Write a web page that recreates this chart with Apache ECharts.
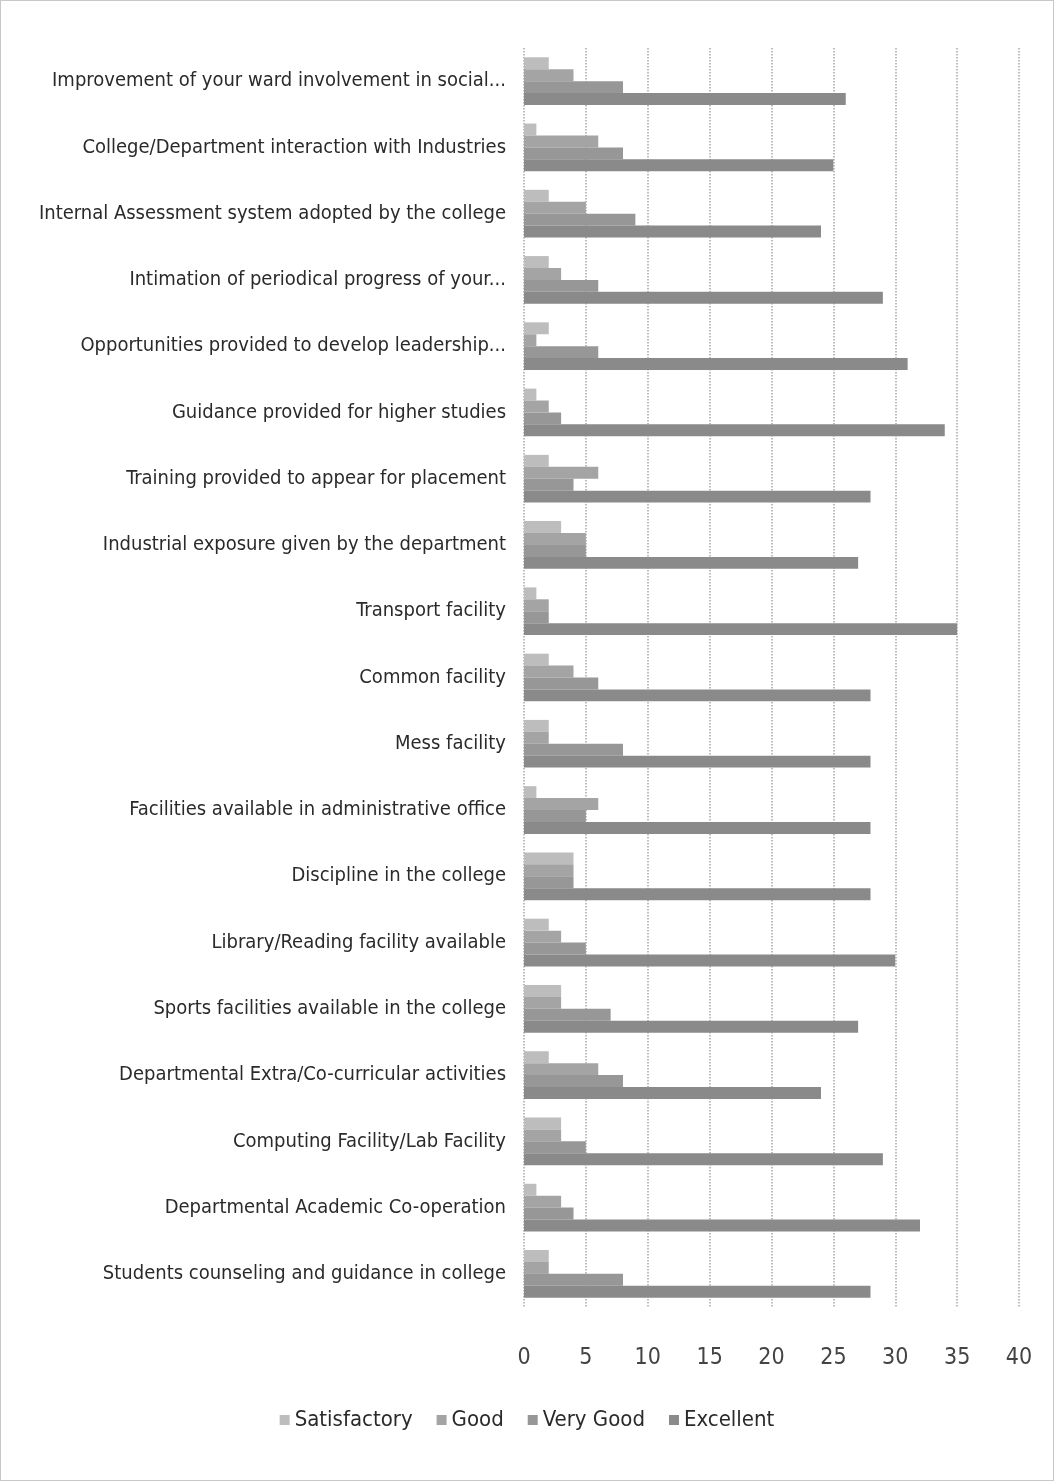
<!DOCTYPE html>
<html>
<head>
<meta charset="utf-8">
<script src="https://cdn.jsdelivr.net/npm/echarts@6/dist/echarts.min.js"></script>
<style>
  html, body { margin: 0; padding: 0; background: #fff; }
  #chartsDOM { width: 1054px; height: 1481px; box-sizing: border-box; border: 1px solid #c8c8c8; }
</style>
</head>
<body>
<div id="chartsDOM"></div>
<script>
// categories, listed from the bottom of the chart to the top
var categories = [
    'Students counseling and guidance in college',
    'Departmental Academic Co-operation',
    'Computing Facility/Lab Facility',
    'Departmental Extra/Co-curricular activities',
    'Sports facilities available in the college',
    'Library/Reading facility available',
    'Discipline in the college',
    'Facilities available in administrative office',
    'Mess facility',
    'Common facility',
    'Transport facility',
    'Industrial exposure given by the department',
    'Training provided to appear for placement',
    'Guidance provided for higher studies',
    'Opportunities provided to develop leadership...',
    'Intimation of periodical progress of your...',
    'Internal Assessment system adopted by the college',
    'College/Department interaction with Industries',
    'Improvement of your ward involvement in social...'
];

// values, same order as categories
var satisfactory = [2, 1, 3, 2, 3, 2, 4, 1, 2, 2, 1, 3, 2, 1, 2, 2, 2, 1, 2];
var good         = [2, 3, 3, 6, 3, 3, 4, 6, 2, 4, 2, 5, 6, 2, 1, 3, 5, 6, 4];
var veryGood     = [8, 4, 5, 8, 7, 5, 4, 5, 8, 6, 2, 5, 4, 3, 6, 6, 9, 8, 8];
var excellent    = [28, 32, 29, 24, 27, 30, 28, 28, 28, 28, 35, 27, 28, 34, 31, 29, 24, 25, 26];

var xTicks = [0, 5, 10, 15, 20, 25, 30, 35, 40];

var myChart = echarts.init(document.getElementById('chartsDOM'));

var labelFont = '"DejaVu Sans Condensed", "Noto Sans", sans-serif';

var option = {
    animation: false,
    backgroundColor: '#fff',
    grid: {
        left: 523,
        right: 34,
        top: 47,
        bottom: 173,
        outerBoundsMode: 'none'
    },
    legend: {
        bottom: 44,
        left: 'center',
        itemWidth: 10,
        itemHeight: 10,
        itemGap: 24,
        icon: 'rect',
        data: ['Satisfactory', 'Good', 'Very Good', 'Excellent'],
        textStyle: { fontFamily: labelFont, fontSize: 22, color: '#2a2a2a' }
    },
    xAxis: {
        type: 'value',
        min: xTicks[0],
        max: xTicks[xTicks.length - 1],
        interval: 5,
        axisLine: { show: false },
        axisTick: { show: false },
        axisLabel: { margin: 40, fontFamily: labelFont, fontSize: 23, color: '#444' },
        splitLine: { show: true, lineStyle: { color: '#a8a8a8', type: 'dotted', width: 1.5 } }
    },
    yAxis: {
        type: 'category',
        data: categories,
        axisLine: { show: false },
        axisTick: { show: false },
        axisLabel: { margin: 18, fontFamily: labelFont, fontSize: 20, color: '#2a2a2a' }
    },
    series: [
        { name: 'Satisfactory', type: 'bar', data: satisfactory, barGap: '0%', barCategoryGap: '28%', itemStyle: { color: '#bdbdbd' } },
        { name: 'Good', type: 'bar', data: good, itemStyle: { color: '#a4a4a4' } },
        { name: 'Very Good', type: 'bar', data: veryGood, itemStyle: { color: '#979797' } },
        { name: 'Excellent', type: 'bar', data: excellent, itemStyle: { color: '#8a8a8a' } }
    ]
};

myChart.setOption(option);
</script>
</body>
</html>
